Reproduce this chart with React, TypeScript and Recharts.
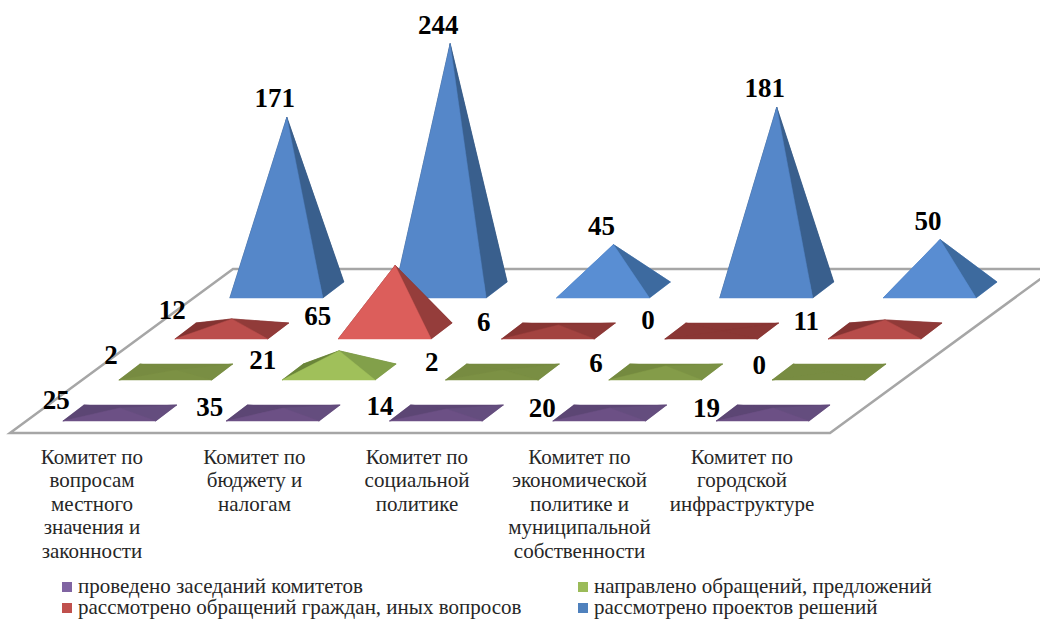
import { BarChart, Bar, XAxis, YAxis, LabelList, Legend } from "recharts";

const categories = [
  "Комитет по\nвопросам\nместного\nзначения и\nзаконности",
  "Комитет по\nбюджету и\nналогам",
  "Комитет по\nсоциальной\nполитике",
  "Комитет по\nэкономической\nполитике и\nмуниципальной\nсобственности",
  "Комитет по\nгородской\nинфраструктуре",
];
const meetings = [25, 35, 14, 20, 19];
// the purple pyramids are drawn almost flat in the picture, whatever their labels say
const meetingsDrawn = [5, 5, 4, 5, 5];
const appeals = [2, 21, 2, 6, 0];
const citizens = [12, 65, 6, 0, 11];
const projects = [171, 244, 45, 181, 50];

const seriesNames = [
  "проведено заседаний комитетов",
  "направлено обращений, предложений",
  "рассмотрено обращений граждан, иных вопросов",
  "рассмотрено проектов решений",
];

const rows = categories.map((name, i) => ({
  name,
  meetings: meetings[i],
  meetingsDrawn: meetingsDrawn[i],
  appeals: appeals[i],
  citizens: citizens[i],
  projects: projects[i],
}));

const WIDTH = 1040;
const HEIGHT = 619;
const FONT = '"Liberation Serif", serif';
const BAND = 163.3;
const BAR = 93;
const DEPTH_X = 21;
const DEPTH_Y = 8;
const PX_PER_UNIT = 1.01;
const MAX = 250;
const AXIS_H = 1;

// nudges: [dx of text end from bar left, dy of baseline from base line]
const layers = [
  {
    key: "projects", labelKey: "projects", id: "d", name: seriesNames[3], legend: "#4f81bd", left: 230, base: 290,
    span: 171, flat: "#5a90d6", flatRight: "#3f6ea5", front: "#5587c9", right: "#395f8d", back: "#2f5078",
    nudges: [[], [], [], [], []],
  },
  {
    key: "citizens", labelKey: "citizens", id: "c", name: seriesNames[2], legend: "#c0504d", left: 175, base: 331,
    span: 20, flat: "#8a3735", flatRight: "#8a3735", front: "#dc5e5b", right: "#953d3b", back: "#7f302f",
    nudges: [[11, -12], [-7, -6], [-11, 0], [-10, -2], [-9, -1]],
  },
  {
    key: "appeals", labelKey: "appeals", id: "b", name: seriesNames[1], legend: "#9bbb59", left: 119, base: 372,
    span: 20, flat: "#788c42", flatRight: "#788c42", front: "#a0c05a", right: "#82a04a", back: "#6a8539",
    nudges: [[-1, -8], [-6, -3], [-7, -1], [-6, 0], [-6, 2]],
  },
  {
    key: "meetingsDrawn", labelKey: "meetings", id: "a", name: seriesNames[0], legend: "#8064a2", left: 63, base: 413,
    span: 1, flat: "#5f4877", flatRight: "#5f4877", front: "#6c5085", right: "#644d7e", back: "#5c4674",
    nudges: [[7, -4], [-3, 3], [4, 2], [3, 4], [4, 4]],
  },
];

const mix = (a: string, b: string, t: number) => {
  const ch = (s: string, i: number) => parseInt(s.slice(1 + i * 2, 3 + i * 2), 16);
  const out = [0, 1, 2].map((i) => Math.round(ch(a, i) + (ch(b, i) - ch(a, i)) * t));
  return `rgb(${out.join(",")})`;
};

function Pyramid(props: any) {
  const { x, y, width, height, value, layer } = props;
  const base = y + height;
  const apex = `${x + width / 2 + DEPTH_X / 2},${y}`;
  const fl = `${x},${base + DEPTH_Y}`;
  const fr = `${x + width},${base + DEPTH_Y}`;
  const br = `${x + width + DEPTH_X},${base - DEPTH_Y}`;
  const bl = `${x + DEPTH_X},${base - DEPTH_Y}`;
  const t = Math.min(1, value / layer.span);
  const backFill = mix(layer.flat, layer.back, t);
  const rightFill = mix(layer.flatRight, layer.right, t);
  const frontFill = mix(layer.flat, layer.front, t);
  return (
    <g>
      <polygon points={`${fl} ${fr} ${br} ${bl}`} fill={layer.flat} />
      <polygon points={`${bl} ${br} ${apex}`} fill={backFill} stroke={backFill} strokeWidth={0.5} />
      <polygon points={`${fl} ${bl} ${apex}`} fill={backFill} stroke={backFill} strokeWidth={0.5} />
      <polygon points={`${fr} ${br} ${apex}`} fill={rightFill} stroke={rightFill} strokeWidth={0.5} />
      <polygon points={`${fl} ${fr} ${apex}`} fill={frontFill} stroke={frontFill} strokeWidth={0.5} />
    </g>
  );
}

function ValueLabel(props: any) {
  const { x, y, width, height, value, index, layer } = props;
  const style = { fontFamily: FONT, fontSize: 27, fontWeight: 700, fill: "#000" };
  if (layer.key === "projects") {
    return (
      <text x={x + width / 2 + DEPTH_X / 2 - 12} y={y - 10} textAnchor="middle" style={style}>
        {value}
      </text>
    );
  }
  const [dx, dy] = layer.nudges[index];
  return (
    <text x={x + dx} y={y + height + dy} textAnchor="end" style={style}>
      {value}
    </text>
  );
}

function CategoryTick(props: any) {
  const { x, payload, index } = props;
  return (
    <text textAnchor="middle" style={{ fontFamily: FONT, fontSize: 21, fill: "#262626" }}>
      {String(payload.value).split("\n").map((line: string, i: number) => (
        <tspan key={i} x={x - 17.5 - index * 0.8} y={464 + i * 23.4}>
          {line}
        </tspan>
      ))}
    </text>
  );
}

function LegendBlock({ payload }: any) {
  const items = [...(payload || [])].sort(
    (a: any, b: any) => seriesNames.indexOf(a.value) - seriesNames.indexOf(b.value)
  );
  return (
    <div
      style={{
        display: "grid",
        gridTemplateColumns: "516px 400px",
        fontFamily: FONT,
        fontSize: 21,
        lineHeight: "21px",
        color: "#262626",
      }}
    >
      {items.map((item: any) => (
        <div key={item.value} style={{ display: "flex", alignItems: "center", whiteSpace: "nowrap" }}>
          <span style={{ width: 10, height: 10, background: item.color, marginRight: 6 }} />
          {item.value}
        </div>
      ))}
    </div>
  );
}

function Floor() {
  return (
    <svg width={WIDTH} height={HEIGHT} style={{ position: "absolute", left: 0, top: 0 }}>
      <polygon points="10,433 233,269 1054,269 830,433" fill="#fff" stroke="#a6a6a6" strokeWidth={2.5} />
    </svg>
  );
}

export default function App() {
  return (
    <div style={{ position: "absolute", left: 0, top: 0, width: WIDTH, height: HEIGHT, background: "#fff" }}>
      <Floor />
      <div style={{ position: "absolute", left: 0, top: 0 }}>
        <BarChart width={WIDTH} height={HEIGHT} data={rows} margin={{ top: 0, right: 0, bottom: 0, left: 0 }}>
          {layers.map((l) => {
            const start = l.left + BAR / 2 - BAND / 2;
            return (
              <XAxis
                key={`x${l.id}`}
                xAxisId={l.id}
                dataKey="name"
                height={AXIS_H}
                interval={0}
                hide={l.id !== "a"}
                axisLine={false}
                tickLine={false}
                tick={CategoryTick}
                padding={{ left: start, right: WIDTH - start - BAND * categories.length }}
              />
            );
          })}
          {layers.map((l) => (
            <YAxis
              key={`y${l.id}`}
              yAxisId={l.id}
              hide
              domain={[0, MAX]}
              padding={{ top: l.base - MAX * PX_PER_UNIT, bottom: HEIGHT - AXIS_H - l.base }}
            />
          ))}
          {layers.map((l) => (
            <Bar
              key={l.key}
              dataKey={l.key}
              name={l.name}
              xAxisId={l.id}
              yAxisId={l.id}
              fill={l.legend}
              barSize={BAR}
              isAnimationActive={false}
              shape={(p: any) => <Pyramid {...p} layer={l} />}
            >
              <LabelList dataKey={l.labelKey} content={(p: any) => <ValueLabel {...p} layer={l} />} />
            </Bar>
          ))}
          <Legend
            layout="horizontal"
            verticalAlign="middle"
            align="center"
            content={<LegendBlock />}
            wrapperStyle={{ position: "absolute", left: 62, top: 576, width: 940 }}
          />
        </BarChart>
      </div>
    </div>
  );
}
